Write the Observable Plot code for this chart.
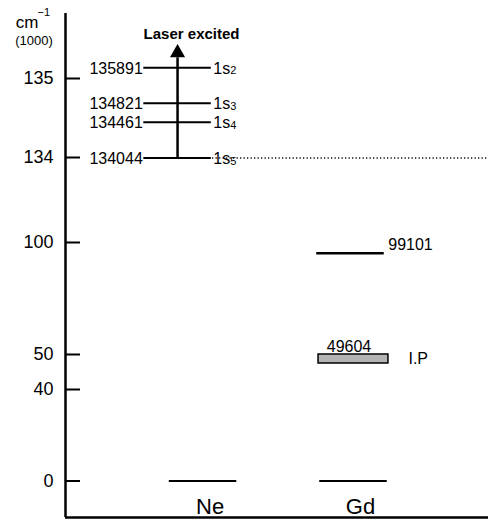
<!DOCTYPE html>
<html><head><meta charset="utf-8">
<script src="https://cdn.jsdelivr.net/npm/d3@7"></script>
<script src="https://cdn.jsdelivr.net/npm/@observablehq/plot@0.6"></script>
<style>html,body{margin:0;padding:0;background:#fff}</style>
</head><body><div id="chart"></div>
<script>
// ---------- data ----------
const neExcitedLevels = [135891, 134821, 134461, 134044];   // cm^-1
const neExcitedNames = ["1s", "1s", "1s", "1s"];
const neExcitedSubs = ["2", "3", "4", "5"];
const atoms = ["Ne", "Gd"];
const groundLevels = [0, 0];
const gdLevels = [99101];
const gdIonization = [49604];
const ipLabel = "I.P";
const yTickValues = [0, 40, 50, 100, 134, 135];              // thousands of cm^-1
const arrowLabel = "Laser excited";
const yUnit = "cm", yUnitSup = "−1", yUnitScale = "(1000)";

// ---------- layout (schematic, broken energy axis) ----------
const W = 488, H = 520;
const yAnchors = [
  [-16, 517], [0, 480.5], [40, 389], [50, 354], [100, 242], [134, 157], [135, 78], [140, 13],
  [gdIonization[0] / 1000, 358.5], [gdLevels[0] / 1000, 252.7],
  ...neExcitedLevels.map((v, i) => [v / 1000, [67.3, 102.7, 121.7, 157.5][i]])
].sort((a, b) => a[0] - b[0]);
const yBottom = yAnchors[0][0], yTop = yAnchors[yAnchors.length - 1][0];
const xMax = 2.82;
const colX = {excited: 0.747, Ne: 0.917, Gd: 1.92};
const hw = 0.225;
const k = v => v / 1000;
const topExc = k(d3.max(neExcitedLevels)), lowExc = k(d3.min(neExcitedLevels));

const ground = atoms.map((a, i) => ({atom: a, value: groundLevels[i]}));
const excited = neExcitedLevels.map((v, i) => ({value: v, name: neExcitedNames[i], sub: neExcitedSubs[i]}));

const chart = Plot.plot({
  width: W, height: H,
  marginLeft: 65, marginRight: 0, marginTop: 13, marginBottom: 3,
  style: {fontFamily: "'Liberation Sans', Arial, sans-serif", fontSize: "16px", color: "black", background: "white"},
  x: {type: "linear", domain: [0, xMax], axis: null},
  y: {type: "linear", domain: yAnchors.map(d => d[0]), range: yAnchors.map(d => d[1]), axis: null},
  marks: [
    // axes frame
    Plot.ruleX([0], {x: d => d, y1: yBottom, y2: yTop, strokeWidth: 2.5}),
    Plot.ruleY([yBottom], {y: d => d, x1: 0, x2: xMax, strokeWidth: 2.5}),
    Plot.ruleY(yTickValues, {y: d => d, x1: 0, x2: 0.1, strokeWidth: 2}),
    Plot.axisY({ticks: yTickValues, tickSize: 0, tickPadding: 12, fontSize: 18, tickFormat: d => String(d), label: null}),
    // axis unit
    Plot.text([yUnit], {frameAnchor: "top-left", text: d => d, dx: -38.5, dy: 9, fontSize: 17, textAnchor: "middle", lineAnchor: "middle"}),
    Plot.text([yUnitSup], {frameAnchor: "top-left", text: d => d, dx: -28, dy: -1, fontSize: 11, textAnchor: "start", lineAnchor: "middle"}),
    Plot.text([yUnitScale], {frameAnchor: "top-left", text: d => d, dx: -31.5, dy: 27.5, fontSize: 13, textAnchor: "middle", lineAnchor: "middle"}),
    // ground levels
    Plot.ruleY(ground, {y: d => k(d.value), x1: d => colX[d.atom] - hw, x2: d => colX[d.atom] + hw, strokeWidth: 2}),
    Plot.text(atoms, {x: d => colX[d], text: d => d, frameAnchor: "bottom", lineAnchor: "middle", dy: -11, dx: 7, fontSize: 22}),
    // dotted 1s5 continuation
    Plot.ruleY([lowExc], {y: d => d, x1: colX.excited, x2: xMax, strokeWidth: 1.5, strokeDasharray: "1.2,2.3"}),
    // Ne excited levels
    Plot.ruleY(excited, {y: d => k(d.value), x1: colX.excited - hw, x2: colX.excited + hw, strokeWidth: 2}),
    Plot.text(excited, {x: colX.excited - hw, y: d => k(d.value), text: d => String(d.value), textAnchor: "end", dx: -1, dy: 1, fontSize: 16}),
    Plot.text(excited, {x: colX.excited + hw, y: d => k(d.value), text: d => d.name, textAnchor: "start", dx: 2, dy: 1, fontSize: 16}),
    Plot.text(excited, {x: colX.excited + hw, y: d => k(d.value), text: d => d.sub, textAnchor: "start", dx: 19, dy: 3, fontSize: 11}),
    // laser arrow
    Plot.ruleX([arrowLabel], {x: colX.excited, y1: topExc, y2: lowExc, insetTop: -10, strokeWidth: 2.5}),
    Plot.dot([arrowLabel], {x: colX.excited, y: topExc, dy: -15, symbol: "triangle", r: 5.6, fill: "black", stroke: "none"}),
    Plot.text([arrowLabel], {x: colX.excited, y: topExc, text: d => d, dy: -34, dx: 14, fontSize: 15, fontWeight: "bold"}),
    // Gd levels
    Plot.ruleY(gdLevels, {y: d => k(d), x1: colX.Gd - hw - 0.02, x2: colX.Gd + hw - 0.02, strokeWidth: 2.5}),
    Plot.text(gdLevels, {x: colX.Gd + hw - 0.02, y: d => k(d), text: d => String(d), textAnchor: "start", dx: 4, dy: -8, fontSize: 16}),
    // Gd ionization potential band
    Plot.rect(gdIonization, {x1: colX.Gd - 0.233, x2: colX.Gd + 0.233, y1: d => k(d), y2: d => k(d), insetTop: -4.5, insetBottom: -4.5, fill: "#b4b4b4", stroke: "black", strokeWidth: 1.5}),
    Plot.text(gdIonization, {x: colX.Gd - 0.03, y: d => k(d), text: d => String(d), dy: -12, fontSize: 16}),
    Plot.text(gdIonization, {x: colX.Gd + 0.233, y: d => k(d), text: () => ipLabel, textAnchor: "start", dx: 20, fontSize: 16})
  ]
});
document.getElementById("chart").append(chart);
</script>
</body></html>
